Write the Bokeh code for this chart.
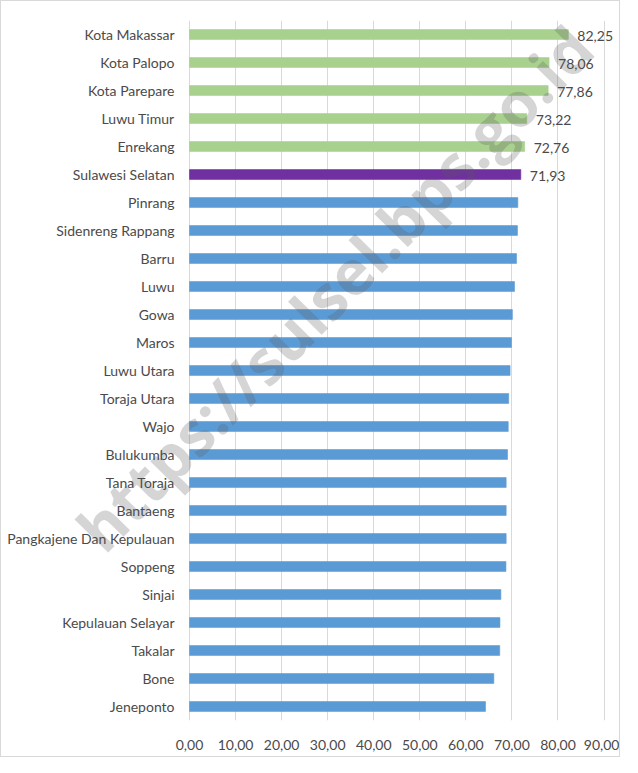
from bokeh.plotting import figure
from bokeh.models import ColumnDataSource, FactorRange, FixedTicker, Label
from bokeh.embed import file_html
from bokeh.resources import INLINE
from bokeh.core.properties import value

regions = ["Kota Makassar", "Kota Palopo", "Kota Parepare", "Luwu Timur", "Enrekang",
           "Sulawesi Selatan", "Pinrang", "Sidenreng Rappang", "Barru", "Luwu", "Gowa",
           "Maros", "Luwu Utara", "Toraja Utara", "Wajo", "Bulukumba", "Tana Toraja",
           "Bantaeng", "Pangkajene Dan Kepulauan", "Soppeng", "Sinjai",
           "Kepulauan Selayar", "Takalar", "Bone", "Jeneponto"]
values = [82.25, 78.06, 77.86, 73.22, 72.76, 71.93, 71.28, 71.20, 71.00, 70.56, 70.10,
          69.90, 69.60, 69.30, 69.20, 69.04, 68.75, 68.75, 68.75, 68.70, 67.60,
          67.40, 67.35, 66.07, 64.26]
groups = ["above"] * 5 + ["province"] + ["below"] * 19
group_colors = {"above": "#A9D18E", "province": "#7030A0", "below": "#5B9BD5"}
shown_labels = 6
x_ticks = [0, 10, 20, 30, 40, 50, 60, 70, 80, 90]
x_tick_labels = ["0,00", "10,00", "20,00", "30,00", "40,00", "50,00", "60,00", "70,00", "80,00", "90,00"]
watermark = "https://sulsel.bps.go.id"

FONT = "Lato"
TXT = "#4a4a4a"

labels = [f"{v:.2f}".replace(".", ",") if i < shown_labels else "" for i, v in enumerate(values)]
src = ColumnDataSource(dict(
    region=regions, val=values, base=[0] * len(values),
    color=[group_colors[g] for g in groups], label=labels,
))

p = figure(width=620, height=757, output_backend="svg", toolbar_location=None,
           x_range=(-40.82, 93.79), y_range=FactorRange(factors=list(reversed(regions))),
           y_axis_location=None,
           min_border_left=0, min_border_right=0, min_border_top=19, min_border_bottom=38)
p.styles = {"border": "1px solid #d9d9d9"}
p.outline_line_color = None

p.hbar(y="region", right="val", left="base", height=0.35, source=src,
       fill_color="color", line_color="color", line_alpha=0.6)

# category labels (left of the zero line)
p.text(x="base", y="region", text="region", source=src, x_offset=-15,
       text_align="right", text_baseline="middle", text_font=value(FONT),
       text_font_size="14px", text_color=TXT)

# value labels
p.text(x="val", y="region", text="label", source=src, x_offset=9, y_offset=1,
       text_align="left", text_baseline="middle", text_font=value(FONT),
       text_font_size="14px", text_color=TXT)

wm = Label(x=31.4, y=15.45, text=watermark, angle=0.795, text_align="center",
           text_baseline="middle", text_font="Open Sans", text_font_style="bold",
           text_font_size="62px", text_color="#595959", text_alpha=0.25)
p.add_layout(wm)

p.xaxis.ticker = FixedTicker(ticks=x_ticks)
p.xaxis.major_label_overrides = {t: l for t, l in zip(x_ticks, x_tick_labels)}
p.xgrid.ticker = FixedTicker(ticks=x_ticks)
p.xgrid.grid_line_color = "#d9d9d9"
p.ygrid.grid_line_color = None

p.xaxis.axis_line_color = None
p.xaxis.major_tick_line_color = None
p.xaxis.minor_tick_line_color = None
p.xaxis.major_label_text_font = FONT
p.xaxis.major_label_text_font_size = "14px"
p.xaxis.major_label_text_color = TXT
p.xaxis.major_label_standoff = 13

open("out.html", "w").write(file_html(p, INLINE))
